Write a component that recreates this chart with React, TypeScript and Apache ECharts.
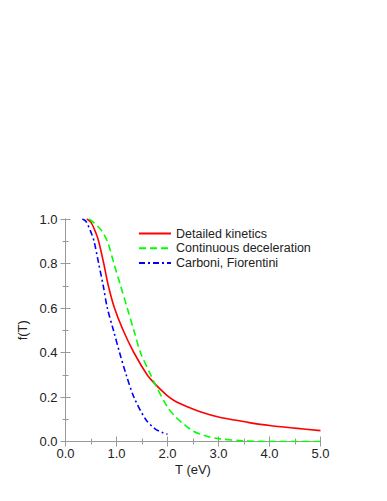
import React, { useEffect, useRef } from "react";
import * as echarts from "echarts";

const seriesNames = ["Detailed kinetics", "Continuous deceleration", "Carboni, Fiorentini"];

const detailedT = [0.42, 0.5, 0.6, 0.65, 0.75, 0.84, 0.96, 1.13, 1.34, 1.6, 1.75, 2.0, 2.16, 2.4, 2.64, 3.0, 3.3, 3.6, 4.0, 4.5, 5.0];
const detailedF = [1.0, 0.985, 0.935, 0.9, 0.8, 0.7, 0.6, 0.5, 0.4, 0.3, 0.26, 0.205, 0.18, 0.155, 0.134, 0.11, 0.097, 0.085, 0.072, 0.06, 0.049];

const continuousT = [0.46, 0.55, 0.7, 0.82, 0.95, 1.08, 1.21, 1.34, 1.47, 1.67, 1.75, 2.0, 2.16, 2.31, 2.5, 2.75, 3.0, 3.5, 4.0, 5.0];
const continuousF = [1.0, 0.985, 0.95, 0.9, 0.8, 0.7, 0.6, 0.5, 0.4, 0.3, 0.26, 0.155, 0.11, 0.08, 0.047, 0.025, 0.013, 0.003, 0.0, 0.0];

const carboniT = [0.33, 0.4, 0.5, 0.56, 0.65, 0.74, 0.82, 0.94, 1.06, 1.19, 1.34, 1.57, 1.75, 1.9, 2.0];
const carboniF = [1.0, 0.99, 0.94, 0.9, 0.8, 0.7, 0.6, 0.5, 0.4, 0.3, 0.2, 0.1, 0.058, 0.04, 0.033];

const xTicks = ["0.0", "1.0", "2.0", "3.0", "4.0", "5.0"];
const yTicks = ["0.0", "0.2", "0.4", "0.6", "0.8", "1.0"];

const FONT = "'Liberation Sans', Arial, Helvetica, sans-serif";
const AXIS_COLOR = "#999999";

function zip(xs: number[], ys: number[]) {
  return xs.map((x, i) => [x, ys[i]]);
}

export default function App() {
  const ref = useRef<HTMLDivElement>(null);
  useEffect(() => {
    document.body.style.margin = "0";
    const chart = echarts.init(ref.current!, null, { renderer: "svg" });
    const axisCommon = {
      type: "value" as const,
      axisLine: { show: true, lineStyle: { color: AXIS_COLOR, width: 1 } },
      axisTick: { show: true, inside: true, length: 5, lineStyle: { color: AXIS_COLOR } },
      minorTick: { show: true, splitNumber: 2, length: 3, lineStyle: { color: AXIS_COLOR } },
      splitLine: { show: false },
    };
    chart.setOption({
      animation: false,
      textStyle: { fontFamily: FONT },
      grid: { left: 65.5, right: 66.5, top: 219, bottom: 59.5, containLabel: false },
      legend: {
        orient: "vertical",
        left: 133,
        top: 222,
        padding: 5,
        itemWidth: 32,
        itemHeight: 14,
        itemGap: 1.8,
        itemStyle: { opacity: 0 },
        textStyle: { fontFamily: FONT, fontSize: 12.5, color: "#222" },
        data: seriesNames,
      },
      xAxis: [
        {
          ...axisCommon,
          position: "bottom",
          min: 0,
          max: 5,
          interval: 1,
          name: "T (eV)",
          nameLocation: "middle",
          nameGap: 21,
          nameTextStyle: { fontSize: 13, color: "#222", fontFamily: FONT },
          axisLabel: {
            fontSize: 13,
            color: "#222",
            margin: 5,
            formatter: (v: number) => xTicks[Math.round(v)] ?? "",
          },
        },
        {
          ...axisCommon,
          position: "top",
          min: 0,
          max: 5,
          interval: 1,
          axisLabel: { show: false },
        },
      ],
      yAxis: [
        {
          ...axisCommon,
          position: "left",
          min: 0,
          max: 1,
          interval: 0.2,
          name: "f(T)",
          nameLocation: "middle",
          nameGap: 34,
          nameTextStyle: { fontSize: 13, color: "#222", fontFamily: FONT },
          axisLabel: {
            fontSize: 13,
            color: "#222",
            margin: 8,
            formatter: (v: number) => yTicks[Math.round(v * 5)] ?? "",
          },
        },
        {
          ...axisCommon,
          position: "right",
          min: 0,
          max: 1,
          interval: 0.2,
          axisLabel: { show: false },
        },
      ],
      series: [
        {
          name: seriesNames[0],
          type: "line",
          data: zip(detailedT, detailedF),
          smooth: 0.3,
          symbol: "none",
          itemStyle: { color: "#ff0000" },
          lineStyle: { color: "#ff0000", width: 1.6, type: "solid" },
        },
        {
          name: seriesNames[1],
          type: "line",
          data: zip(continuousT, continuousF),
          smooth: 0.3,
          symbol: "none",
          itemStyle: { color: "#00ff00" },
          lineStyle: { color: "#00ff00", width: 1.6, type: [7, 4] },
        },
        {
          name: seriesNames[2],
          type: "line",
          data: zip(carboniT, carboniF),
          smooth: 0.3,
          symbol: "none",
          itemStyle: { color: "#0000ff" },
          lineStyle: { color: "#0000ff", width: 1.6, type: [6, 3, 2, 3] },
        },
      ],
    });
    return () => chart.dispose();
  }, []);
  return <div ref={ref} style={{ position: "absolute", left: 0, top: 0, width: 387, height: 501 }} />;
}
